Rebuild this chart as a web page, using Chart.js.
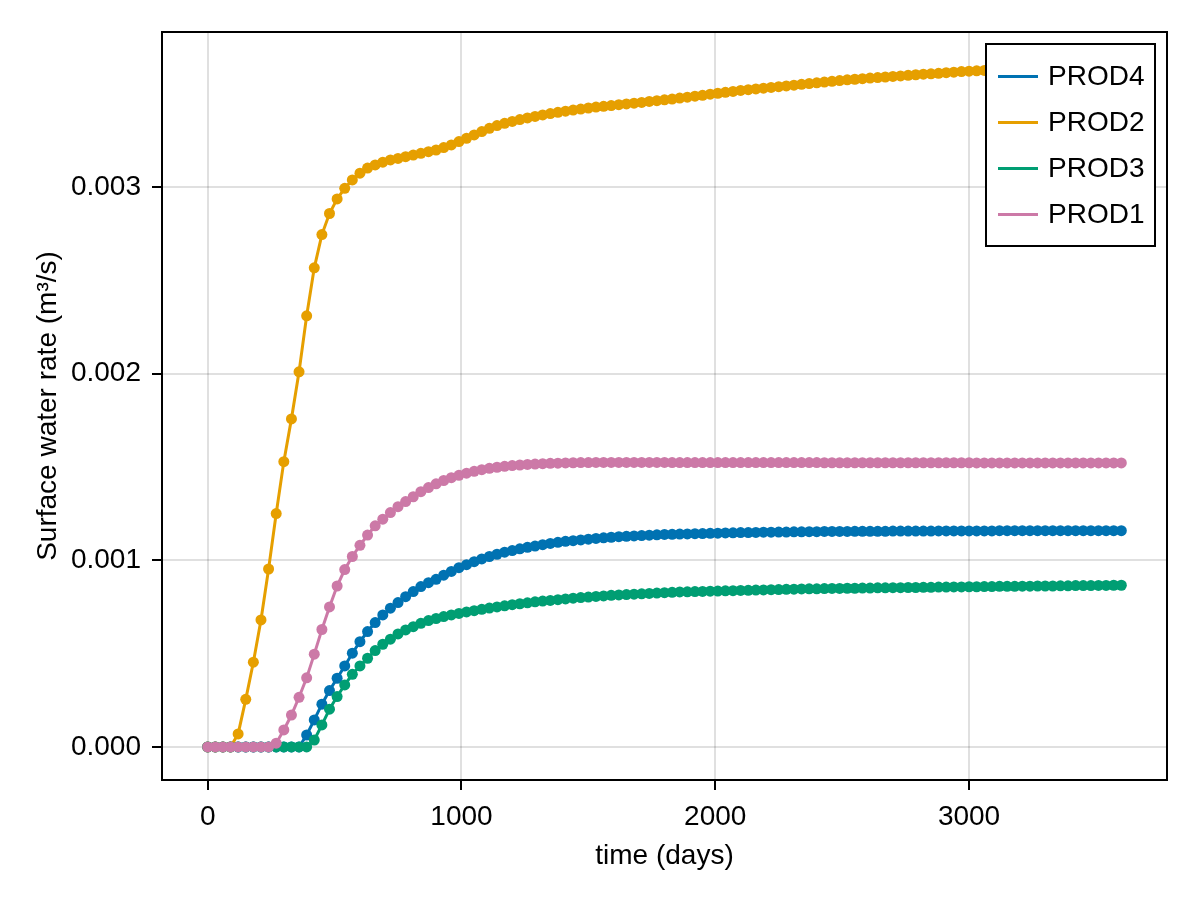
<!DOCTYPE html>
<html>
<head>
<meta charset="utf-8">
<title>Surface water rate</title>
<script src="https://cdn.jsdelivr.net/npm/chart.js@4.4.1/dist/chart.umd.min.js"></script>
<style>
  html, body { margin: 0; padding: 0; background: #fff; }
  #wrap { width: 1200px; height: 900px; }
</style>
</head>
<body>
<div id="wrap"><canvas id="rateChart" width="1200" height="900"></canvas></div>
<script>
// report times (days), one step every 30 days
const times = [
  0, 30, 60, 90, 120, 150, 180, 210, 240, 270,
  300, 330, 360, 390, 420, 450, 480, 510, 540, 570,
  600, 630, 660, 690, 720, 750, 780, 810, 840, 870,
  900, 930, 960, 990, 1020, 1050, 1080, 1110, 1140, 1170,
  1200, 1230, 1260, 1290, 1320, 1350, 1380, 1410, 1440, 1470,
  1500, 1530, 1560, 1590, 1620, 1650, 1680, 1710, 1740, 1770,
  1800, 1830, 1860, 1890, 1920, 1950, 1980, 2010, 2040, 2070,
  2100, 2130, 2160, 2190, 2220, 2250, 2280, 2310, 2340, 2370,
  2400, 2430, 2460, 2490, 2520, 2550, 2580, 2610, 2640, 2670,
  2700, 2730, 2760, 2790, 2820, 2850, 2880, 2910, 2940, 2970,
  3000, 3030, 3060, 3090, 3120, 3150, 3180, 3210, 3240, 3270,
  3300, 3330, 3360, 3390, 3420, 3450, 3480, 3510, 3540, 3570,
  3600
];

// surface water rate (m3/s) per producer
const prod4 = [
  0, 0, 0, 0, 0, 0, 0, 0, 0, 0,
  0, 0, 0, 0.000064, 0.000145, 0.000229, 0.000302, 0.000368, 0.000434, 0.000502,
  0.000564, 0.000618, 0.000666, 0.000707, 0.000743, 0.000773, 0.000805, 0.000832, 0.000859, 0.00088,
  0.000898, 0.00092, 0.00094, 0.00096, 0.000976, 0.000992, 0.001007, 0.00102, 0.001032, 0.001043,
  0.001052, 0.001061, 0.001069, 0.001076, 0.001083, 0.00109, 0.001096, 0.001101, 0.001105, 0.001109,
  0.001113, 0.001117, 0.00112, 0.001123, 0.001126, 0.001128, 0.00113, 0.001132, 0.001134, 0.001136,
  0.001138, 0.001139, 0.00114, 0.001141, 0.001142, 0.001143, 0.001144, 0.001145, 0.001146, 0.001147,
  0.001148, 0.001148, 0.001149, 0.00115, 0.00115, 0.001151, 0.001151, 0.001152, 0.001152, 0.001153,
  0.001153, 0.001154, 0.001154, 0.001154, 0.001154, 0.001155, 0.001155, 0.001155, 0.001155, 0.001155,
  0.001156, 0.001156, 0.001156, 0.001156, 0.001156, 0.001156, 0.001157, 0.001157, 0.001157, 0.001157,
  0.001157, 0.001157, 0.001157, 0.001157, 0.001158, 0.001158, 0.001158, 0.001158, 0.001158, 0.001158,
  0.001158, 0.001158, 0.001158, 0.001158, 0.001158, 0.001158, 0.001158, 0.001158, 0.001158, 0.001158,
  0.001158
];
const prod2 = [
  0, 0, 0, 0, 0.00007, 0.000255, 0.000454, 0.00068, 0.000953, 0.00125,
  0.001528, 0.001757, 0.002009, 0.002309, 0.002566, 0.002744, 0.002857, 0.002935, 0.002992, 0.003037,
  0.003073, 0.0031, 0.003117, 0.003132, 0.003144, 0.003152, 0.003161, 0.00317, 0.003179, 0.003188,
  0.003197, 0.00321, 0.003224, 0.003242, 0.00326, 0.003278, 0.003296, 0.003313, 0.003328, 0.00334,
  0.00335, 0.00336, 0.003369, 0.003377, 0.003385, 0.003392, 0.003399, 0.003405, 0.003411, 0.003416,
  0.003422, 0.003427, 0.003431, 0.003435, 0.00344, 0.003444, 0.003448, 0.003452, 0.003457, 0.003461,
  0.003466, 0.00347, 0.003475, 0.00348, 0.003485, 0.00349, 0.003496, 0.003501, 0.003506, 0.003511,
  0.003516, 0.00352, 0.003524, 0.003528, 0.003532, 0.003536, 0.00354, 0.003544, 0.003549, 0.003553,
  0.003557, 0.003561, 0.003565, 0.003569, 0.003573, 0.003576, 0.003579, 0.003582, 0.003585, 0.003588,
  0.003591, 0.003594, 0.003597, 0.0036, 0.003603, 0.003605, 0.003608, 0.003611, 0.003614, 0.003617,
  0.003619, 0.003621, 0.003623, 0.003625, 0.003626, 0.003627, 0.003628, 0.003629, 0.00363, 0.003631,
  0.003632, 0.003633, 0.003634, 0.003635, 0.003636, 0.003637, 0.003638, 0.003639, 0.00364, 0.003641,
  0.003642
];
const prod3 = [
  0, 0, 0, 0, 0, 0, 0, 0, 0, 0,
  0, 0, 0, 0, 0.000037, 0.000118, 0.000202, 0.00027, 0.000332, 0.000389,
  0.000434, 0.000475, 0.000516, 0.00055, 0.000577, 0.000605, 0.000627, 0.000644, 0.000662, 0.000677,
  0.000688, 0.000698, 0.000707, 0.000715, 0.000723, 0.00073, 0.000737, 0.000744, 0.00075, 0.000756,
  0.000762, 0.000767, 0.000772, 0.000777, 0.000781, 0.000785, 0.000789, 0.000793, 0.000797, 0.0008,
  0.000803, 0.000806, 0.000809, 0.000812, 0.000814, 0.000816, 0.000818, 0.00082, 0.000822, 0.000824,
  0.000826, 0.000828, 0.00083, 0.000831, 0.000832, 0.000833, 0.000834, 0.000835, 0.000836, 0.000837,
  0.000838, 0.000839, 0.00084, 0.000841, 0.000842, 0.000843, 0.000844, 0.000845, 0.000846, 0.000847,
  0.000847, 0.000848, 0.000849, 0.000849, 0.00085, 0.00085, 0.000851, 0.000851, 0.000852, 0.000852,
  0.000853, 0.000853, 0.000854, 0.000854, 0.000855, 0.000855, 0.000856, 0.000856, 0.000857, 0.000857,
  0.000858, 0.000858, 0.000859, 0.000859, 0.00086, 0.00086, 0.00086, 0.000861, 0.000861, 0.000862,
  0.000862, 0.000862, 0.000863, 0.000863, 0.000864, 0.000864, 0.000864, 0.000865, 0.000865, 0.000866,
  0.000866
];
const prod1 = [
  0, 0, 0, 0, 0, 0, 0, 0, 0, 0.00002,
  0.000091, 0.000171, 0.000266, 0.00037, 0.000497, 0.000629, 0.00075, 0.000862, 0.00095, 0.00102,
  0.00108, 0.001135, 0.001184, 0.00122, 0.001255, 0.001287, 0.001314, 0.00134, 0.001367, 0.001389,
  0.001409, 0.001427, 0.001442, 0.001455, 0.001466, 0.001476, 0.001485, 0.001492, 0.001498, 0.001503,
  0.001507, 0.00151, 0.001513, 0.001515, 0.001517, 0.001519, 0.00152, 0.001521, 0.001522, 0.001523,
  0.001523, 0.001524, 0.001524, 0.001524, 0.001524, 0.001524, 0.001524, 0.001524, 0.001524, 0.001524,
  0.001524, 0.001523, 0.001523, 0.001523, 0.001523, 0.001523, 0.001523, 0.001523, 0.001523, 0.001523,
  0.001523, 0.001523, 0.001523, 0.001523, 0.001523, 0.001523, 0.001523, 0.001523, 0.001523, 0.001523,
  0.001523, 0.001522, 0.001522, 0.001522, 0.001522, 0.001522, 0.001522, 0.001522, 0.001522, 0.001522,
  0.001522, 0.001522, 0.001522, 0.001522, 0.001522, 0.001522, 0.001522, 0.001522, 0.001522, 0.001522,
  0.001522, 0.001521, 0.001521, 0.001521, 0.001521, 0.001521, 0.001521, 0.001521, 0.001521, 0.001521,
  0.001521, 0.001521, 0.001521, 0.001521, 0.001521, 0.001521, 0.001521, 0.001521, 0.001521, 0.001521,
  0.001521
];

const seriesNames = ['PROD4', 'PROD2', 'PROD3', 'PROD1'];
const seriesValues = [prod4, prod2, prod3, prod1];
const seriesColors = ['#0072b2', '#e69f00', '#009e73', '#cc79a7'];
const xTicks = [0, 1000, 2000, 3000];
const yTicks = [0, 0.001, 0.002, 0.003];

Chart.defaults.font.family = '"Liberation Sans", Arial, sans-serif';
Chart.defaults.font.size = 28;
Chart.defaults.color = '#000';

// white page + black frame on all four sides of the plot area
const framePlugin = {
    id: 'frame',
    beforeDraw(chart) {
        const ctx = chart.ctx;
        ctx.save();
        ctx.fillStyle = '#fff';
        ctx.fillRect(0, 0, chart.width, chart.height);
        ctx.restore();
    },
    afterDatasetsDraw(chart) {
        const { ctx, chartArea: a } = chart;
        ctx.save();
        ctx.strokeStyle = '#000';
        ctx.lineWidth = 2;
        ctx.strokeRect(a.left, a.top, a.right - a.left, a.bottom - a.top);
        ctx.restore();
    }
};

// legend box in the top right corner, drawn over the data
const boxLegend = {
    id: 'boxLegend',
    afterDraw(chart) {
        const { ctx, chartArea: a } = chart;
        const x0 = a.right - 181, y0 = a.top + 12;
        const w = 169, h = 202, rowH = 46;
        ctx.save();
        ctx.fillStyle = '#fff';
        ctx.fillRect(x0, y0, w, h);
        ctx.strokeStyle = '#000';
        ctx.lineWidth = 2;
        ctx.strokeRect(x0, y0, w, h);
        ctx.font = '28px "Liberation Sans", Arial, sans-serif';
        ctx.textBaseline = 'middle';
        ctx.textAlign = 'left';
        chart.data.datasets.forEach((ds, i) => {
            const y = y0 + 32.5 + i * rowH;
            ctx.strokeStyle = ds.borderColor;
            ctx.lineWidth = 3;
            ctx.beginPath();
            ctx.moveTo(x0 + 12, y);
            ctx.lineTo(x0 + 52, y);
            ctx.stroke();
            ctx.fillStyle = '#000';
            ctx.fillText(ds.label, x0 + 62, y + 1);
        });
        ctx.restore();
    }
};

const ctx = document.getElementById('rateChart').getContext('2d');
new Chart(ctx, {
    type: 'line',
    data: {
        datasets: seriesNames.map((name, k) => ({
            label: name,
            data: times.map((t, i) => ({ x: t, y: seriesValues[k][i] })),
            borderColor: seriesColors[k],
            backgroundColor: seriesColors[k],
            pointBackgroundColor: seriesColors[k],
            borderWidth: 3,
            pointRadius: 5.5,
            pointBorderWidth: 0,
            tension: 0,
            fill: false,
            order: seriesNames.length - k
        }))
    },
    options: {
        responsive: false,
        animation: false,
        layout: { padding: { left: 0, top: 32, right: 33, bottom: 0 } },
        plugins: {
            legend: { display: false },
            tooltip: { enabled: false }
        },
        scales: {
            x: {
                type: 'linear',
                min: -180,
                max: 3780,
                afterBuildTicks: s => { s.ticks = xTicks.map(v => ({ value: v })); },
                afterFit: s => { s.height = 120; },
                grid: {
                    color: 'rgba(0, 0, 0, 0.12)',
                    lineWidth: 2,
                    drawTicks: true,
                    tickLength: 10,
                    tickColor: '#000',
                    tickWidth: 2
                },
                border: { display: false },
                ticks: {
                    padding: 10,
                    color: '#000',
                    maxRotation: 0,
                    callback: v => String(v)
                },
                title: {
                    display: true,
                    text: 'time (days)',
                    color: '#000',
                    font: { size: 28 },
                    padding: { top: 0, bottom: 27 }
                }
            },
            y: {
                type: 'linear',
                min: -0.000177,
                max: 0.003829,
                afterBuildTicks: s => { s.ticks = yTicks.map(v => ({ value: v })); },
                afterFit: s => { s.width = 162; },
                grid: {
                    color: 'rgba(0, 0, 0, 0.12)',
                    lineWidth: 2,
                    drawTicks: true,
                    tickLength: 10,
                    tickColor: '#000',
                    tickWidth: 2
                },
                border: { display: false },
                ticks: {
                    padding: 11,
                    color: '#000',
                    callback: v => v.toFixed(3)
                },
                title: {
                    display: true,
                    text: 'Surface water rate (m³/s)',
                    color: '#000',
                    font: { size: 28 },
                    padding: { top: 31, bottom: 0 }
                }
            }
        }
    },
    plugins: [framePlugin, boxLegend]
});
</script>
</body>
</html>
